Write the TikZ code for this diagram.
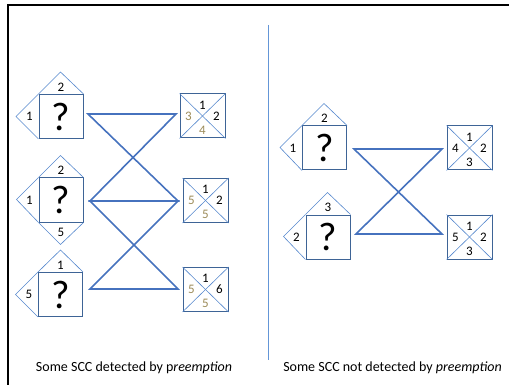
\documentclass[tikz,border=0pt]{standalone}
\usepackage{fontspec}
\setmainfont{Carlito}
\usetikzlibrary{calc}
\definecolor{sqblue}{RGB}{62,100,150}
\definecolor{triblue}{RGB}{85,135,205}
\definecolor{connblue}{RGB}{70,114,190}
\definecolor{divblue}{RGB}{100,150,215}
\definecolor{tancol}{RGB}{156,139,88}
\tikzset{
  sq/.style={draw=sqblue, line width=1pt, minimum width=44pt, minimum height=44pt, inner sep=0pt, font=\fontsize{40}{40}\selectfont},
  xbox/.style={draw=sqblue, line width=1pt, minimum width=45pt, minimum height=44pt, inner sep=0pt},
  tri/.style={draw=triblue, line width=0.6pt},
  diag/.style={draw=triblue, line width=0.6pt},
  num/.style={font=\fontsize{13}{13}\selectfont, inner sep=0pt},
  tnum/.style={num, text=tancol},
  conn/.style={draw=connblue, line width=1.6pt, line join=miter},
  captext/.style={font=\fontsize{14}{16}\selectfont, inner sep=0pt},
  frameline/.style={draw=black, line width=2pt},
  divider/.style={draw=divblue, line width=0.8pt}
}
\begin{document}
\begin{tikzpicture}[x=1pt,y=-1pt]
\useasboundingbox (0,0) rectangle (509,385);
% frame
\coordinate (fa) at (8,385);
\coordinate (fb) at (8,5.5);
\coordinate (fc) at (509,5.5);
\draw[frameline] (fa) -- (fb) -- (fc);
% divider
\coordinate (da) at (268,25);
\coordinate (db) at (268,360);
\draw[divider] (da) -- (db);

% ---------- left panel ----------
\node[sq] (a1) at (61,116.5) {?};
\node[sq] (a2) at (61,200) {?};
\node[sq] (a3) at (60.5,294.5) {?};
% triangles
\draw[tri] (a1.north west) -- ++(22,-22) -- (a1.north east);
\draw[tri] (a1.north west) -- ++(-22.5,22.5) -- (a1.south west);
\node[num] (a1t) at ($(a1.north)+(0,-7)$) {2};
\node[num] (a1l) at ($(a1.west)+(-9,0)$) {1};
\draw[tri] (a2.north west) -- ++(22,-22) -- (a2.north east);
\draw[tri] (a2.north west) -- ++(-22,22) -- (a2.south west);
\draw[tri] (a2.south west) -- ++(22,22) -- (a2.south east);
\node[num] (a2t) at ($(a2.north)+(0,-7)$) {2};
\node[num] (a2l) at ($(a2.west)+(-9,0)$) {1};
\node[num] (a2b) at ($(a2.south)+(0,10)$) {5};
\draw[tri] (a3.north west) -- ++(22.5,-22) -- (a3.north east);
\draw[tri] (a3.north west) -- ++(-22.5,22.5) -- (a3.south west);
\node[num] (a3t) at ($(a3.north)+(0,-7)$) {1};
\node[num] (a3l) at ($(a3.west)+(-9,0)$) {5};

\node[xbox] (b1) at (202.5,116) {};
\node[xbox] (b2) at (205.5,200.5) {};
\node[xbox] (b3) at (205.5,289.5) {};
\foreach \b in {b1,b2,b3}{
  \draw[diag] (\b.north west) -- (\b.south east);
  \draw[diag] (\b.north east) -- (\b.south west);
}
\node[num]  (b1t) at ($(b1.center)+(0,-11)$) {1};
\node[num]  (b1r) at ($(b1.center)+(14,0)$) {2};
\node[tnum] (b1l) at ($(b1.center)+(-14,0)$) {3};
\node[tnum] (b1b) at ($(b1.center)+(0,14)$) {4};
\node[num]  (b2t) at ($(b2.center)+(0,-11)$) {1};
\node[num]  (b2r) at ($(b2.center)+(14,0)$) {2};
\node[tnum] (b2l) at ($(b2.center)+(-14,0)$) {5};
\node[tnum] (b2b) at ($(b2.center)+(0,14)$) {5};
\node[num]  (b3t) at ($(b3.center)+(0,-11)$) {1};
\node[num]  (b3r) at ($(b3.center)+(14,0)$) {6};
\node[tnum] (b3l) at ($(b3.center)+(-14,0)$) {5};
\node[tnum] (b3b) at ($(b3.center)+(0,14)$) {5};

% hourglass connectors
\coordinate (l1) at (88,114);
\coordinate (r1) at (176,114);
\coordinate (l2) at (90,201);
\coordinate (r2) at (178,201);
\coordinate (l3) at (90,289);
\coordinate (r3) at (178,289);
\draw[conn] (l1) -- (r1) -- (l2) -- (r2) -- cycle;
\draw[conn] (l2) -- (r2) -- (l3) -- (r3) -- cycle;

\node[captext] (capl) at (134,368) {Some SCC detected by p\textit{reemption}};

% ---------- right panel ----------
\node[sq] (c1) at (324.5,148) {?};
\node[sq] (c2) at (328,237) {?};
\draw[tri] (c1.north west) -- ++(22,-22) -- (c1.north east);
\draw[tri] (c1.north west) -- ++(-22,22) -- (c1.south west);
\node[num] (c1t) at ($(c1.north)+(0,-7)$) {2};
\node[num] (c1l) at ($(c1.west)+(-9,0)$) {1};
\draw[tri] (c2.north west) -- ++(22,-22) -- (c2.north east);
\draw[tri] (c2.north west) -- ++(-22,22) -- (c2.south west);
\node[num] (c2t) at ($(c2.north)+(0,-7)$) {3};
\node[num] (c2l) at ($(c2.west)+(-9,0)$) {2};

\node[xbox] (d1) at (469.5,148) {};
\node[xbox] (d2) at (469.5,237) {};
\foreach \b in {d1,d2}{
  \draw[diag] (\b.north west) -- (\b.south east);
  \draw[diag] (\b.north east) -- (\b.south west);
}
\node[num] (d1t) at ($(d1.center)+(0,-11)$) {1};
\node[num] (d1r) at ($(d1.center)+(14,0)$) {2};
\node[num] (d1l) at ($(d1.center)+(-14,0)$) {4};
\node[num] (d1b) at ($(d1.center)+(0,14)$) {3};
\node[num] (d2t) at ($(d2.center)+(0,-11)$) {1};
\node[num] (d2r) at ($(d2.center)+(14,0)$) {2};
\node[num] (d2l) at ($(d2.center)+(-14,0)$) {5};
\node[num] (d2b) at ($(d2.center)+(0,14)$) {3};

\coordinate (m1) at (354,149);
\coordinate (n1) at (442,149);
\coordinate (m2) at (356,234);
\coordinate (n2) at (442,234);
\draw[conn] (m1) -- (n1) -- (m2) -- (n2) -- cycle;

\node[captext] (capr) at (392.5,368) {Some SCC not detected by \textit{preemption}};
\end{tikzpicture}
\end{document}
